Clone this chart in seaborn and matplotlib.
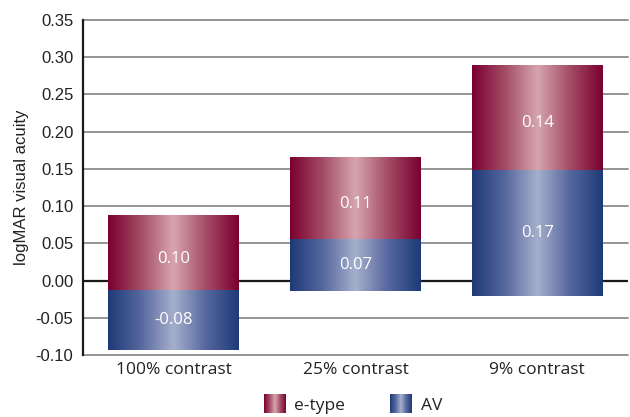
import numpy as np
import pandas as pd
import matplotlib
matplotlib.use("Agg")
import matplotlib.pyplot as plt
import seaborn as sns
from matplotlib.colors import LinearSegmentedColormap
from matplotlib.legend_handler import HandlerBase
from matplotlib.image import BboxImage
from matplotlib.transforms import Bbox, TransformedBbox
from matplotlib.patches import Rectangle

# Data: logMAR visual acuity per contrast level
conditions = ["100% contrast", "25% contrast", "9% contrast"]
av_values = [-0.08, 0.07, 0.17]
etype_values = [0.10, 0.11, 0.14]
# lower end of each floating stack
bar_floor = [-0.093, -0.014, -0.021]
yticks = [-0.10, -0.05, 0.00, 0.05, 0.10, 0.15, 0.20, 0.25, 0.30, 0.35]

sns.set_theme(style="white")
plt.rcParams["font.family"] = ["Liberation Sans", "DejaVu Sans"]

etype_cmap = LinearSegmentedColormap.from_list(
    "etype", ["#7a0030", "#a44c66", "#d6a5ae", "#a44c66", "#7a0030"])
av_cmap = LinearSegmentedColormap.from_list(
    "av", ["#1d3a78", "#56679e", "#a6afcc", "#56679e", "#1d3a78"])

fig = plt.figure(figsize=(6.3, 4.17), dpi=100)
ax = fig.add_axes([83 / 630, 62 / 417, 545 / 630, 335 / 417])

df = pd.DataFrame({"condition": conditions, "AV": av_values, "e-type": etype_values})

sns.barplot(data=df, x="condition", y="AV", width=0.72, ax=ax, color="#1d3a78")
n_av = len(ax.patches)
sns.barplot(data=df, x="condition", y="e-type", width=0.72, ax=ax, color="#7a0030")
av_bars = ax.patches[:n_av]
et_bars = ax.patches[n_av:]

grad = np.linspace(0, 1, 256).reshape(1, -1)
label_font = ["Open Sans", "DejaVu Sans"]

def fill_gradient(patch, bottom, length, cmap):
    patch.set_y(bottom)
    patch.set_height(length)
    patch.set_alpha(0)
    x0 = patch.get_x()
    w = patch.get_width()
    ax.imshow(grad, cmap=cmap, extent=[x0, x0 + w, bottom, bottom + length],
              aspect="auto", interpolation="bilinear", zorder=3)
    return x0 + w / 2, bottom + length / 2

for i, (pa, pe) in enumerate(zip(av_bars, et_bars)):
    av_len = abs(av_values[i])
    cx, cy = fill_gradient(pa, bar_floor[i], av_len, av_cmap)
    ax.text(cx, cy, f"{av_values[i]:.2f}", color="white", ha="center", va="center",
            fontsize=12, family=label_font, zorder=4)
    cx, cy = fill_gradient(pe, bar_floor[i] + av_len, etype_values[i], etype_cmap)
    ax.text(cx, cy - 0.008, f"{etype_values[i]:.2f}", color="white", ha="center",
            va="center", fontsize=12, family=label_font, zorder=4)

ax.set_xlim(-0.5, 2.5)
ax.set_ylim(-0.10, 0.35)

# horizontal reference lines
for t in yticks:
    if abs(t) < 1e-9:
        ax.axhline(t, color="#1a1a1a", lw=1.6, zorder=1)
    else:
        ax.axhline(t, color="#959595", lw=1.4, zorder=1, clip_on=False)

for s in ["top", "right", "bottom"]:
    ax.spines[s].set_visible(False)
ax.spines["left"].set_color("#1a1a1a")
ax.spines["left"].set_linewidth(1.6)
ax.spines["left"].set_zorder(2)

ax.set_yticks(yticks)
ax.set_yticklabels([f"{t:.2f}" for t in yticks])
ax.tick_params(axis="y", length=0, pad=7, labelsize=12, labelcolor="#222222")
ax.tick_params(axis="x", length=0, pad=5, labelsize=12.5, labelcolor="#222222")
for lbl in ax.get_xticklabels():
    lbl.set_family(label_font)
ax.set_xlabel("")
ax.set_ylabel("logMAR visual acuity", fontsize=12, color="#222222", labelpad=5)


class GradientHandler(HandlerBase):
    def __init__(self, cmap):
        super().__init__()
        self.cmap = cmap

    def create_artists(self, legend, orig_handle, xdescent, ydescent,
                       width, height, fontsize, trans):
        bb = Bbox.from_bounds(-xdescent, -ydescent, width, height)
        img = BboxImage(TransformedBbox(bb, trans), cmap=self.cmap,
                        interpolation="bilinear")
        img.set_data(grad)
        return [img]


h_et = Rectangle((0, 0), 1, 1)
h_av = Rectangle((0, 0), 1, 1)
leg = fig.legend([h_et, h_av], ["e-type", "AV"],
                 handler_map={h_et: GradientHandler(etype_cmap), h_av: GradientHandler(av_cmap)},
                 loc="center", bbox_to_anchor=(353 / 630, 12.5 / 417), ncol=2, frameon=False,
                 handlelength=1.25, handleheight=1.25, handletextpad=0.5, columnspacing=2.6,
                 prop={"family": label_font, "size": 12.5})
for t in leg.get_texts():
    t.set_color("#222222")

fig.savefig("out.png", dpi=100)
